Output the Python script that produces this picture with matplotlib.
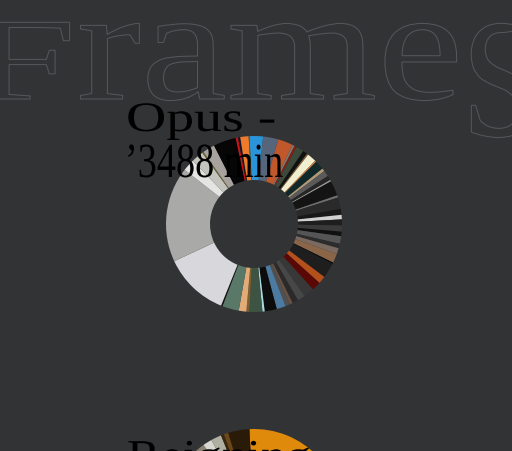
import numpy as np
import matplotlib
matplotlib.use("Agg")
import matplotlib.pyplot as plt
from matplotlib.patheffects import AbstractPathEffect
from matplotlib.transforms import Affine2D
from matplotlib.path import Path

# ---------------- data ----------------
title_text = "Frames"
album1_line1 = "Opus -"
album1_line2 = "\u20193488 min"
album2_line1 = "Reigning"

# donut 1: colour share of each slice (clockwise from top)
album1_values = [9, 10, 10, 1.5, 1.5, 5, 3, 1, 6, 1, 6, 2, 4, 3, 1, 10, 1.5, 7.5,
                 4, 3, 4, 4, 3, 5, 3, 4, 6, 1, 10, 5, 6, 7, 5, 4, 2, 3, 6, 8,
                 1.5, 8.5, 2, 5, 11, 1, 43, 63, 8, 8, 1, 8, 15, 1.5, 1.5, 5.5, 0.5]
album1_colors = ["#2b93d8", "#56657a", "#c0582b", "#7a7a72", "#8a1a10", "#3b4a3a",
                 "#111111", "#7a5a30", "#f2eed0", "#d08040", "#10282a", "#b09a78",
                 "#5a5a5a", "#262626", "#a0a0a0", "#141414", "#707070", "#2a2a2a",
                 "#181818", "#d0d0d0", "#1e1e1e", "#3a3a3a", "#101010", "#555555",
                 "#2c2c2c", "#7a6a60", "#8a6548", "#0a0a0a", "#1e1e1e", "#b4501c",
                 "#5a0806", "#383838", "#474747", "#2a2a2a", "#6a5040", "#505050",
                 "#4d7aa0", "#0c0c0c", "#a8d8e0", "#3d5444", "#7b6030", "#e2ab78",
                 "#5a7868", "#151515", "#d8d8dc", "#a9a9a7", "#e4e4e2", "#c4c4be",
                 "#6e6a30", "#a8a29e", "#060606", "#d01010", "#141428", "#ef7a2c",
                 "#3a6a4a"]

# donut 2 (mostly below the visible area)
album2_values = [200, 40, 45, 43, 6, 7, 2, 3, 14]
album2_colors = ["#e08a0c", "#c07020", "#5a4030", "#8a8070", "#d8d8d0",
                 "#b0b0a2", "#3a2510", "#6a4818", "#2a1a08"]

BG = "#323335"


# ---------------- helpers ----------------
class Stretch(AbstractPathEffect):
    """Draw text stretched horizontally (optionally outline only)."""
    def __init__(self, sx=1.0, edge=None, lw=0.0, glyph_fn=None):
        super().__init__()
        self.sx = sx
        self.edge = edge
        self.lw = lw
        self.glyph_fn = glyph_fn

    def draw_path(self, renderer, gc, tpath, affine, rgbFace=None):
        gc0 = renderer.new_gc()
        gc0.copy_properties(gc)
        path = tpath
        if self.glyph_fn is not None:
            path = Path(self.glyph_fn(np.array(tpath.vertices, dtype=float)), tpath.codes)
        aff = Affine2D().scale(self.sx, 1.0) + affine
        if self.edge is not None:
            gc0.set_foreground(self.edge)
            gc0.set_linewidth(self.lw)
            renderer.draw_path(gc0, path, aff, None)
        else:
            gc0.set_linewidth(0)
            renderer.draw_path(gc0, path, aff, rgbFace)
        gc0.restore()


def frames_glyphs(v):
    # F drawn at lowercase height, final s drawn taller (hanging below baseline)
    x, y = v[:, 0], v[:, 1]
    m_f = x < 55
    y[m_f] = y[m_f] * 0.73
    m_s = x > 254
    top = 47.0
    y[m_s] = top - (top - y[m_s]) * 1.48
    return v


# ---------------- figure ----------------
W, H = 512, 452
fig = plt.figure(figsize=(W / 100, H / 100), dpi=100, facecolor=BG)
ax = fig.add_axes([0, 0, 1, 1])
ax.set_facecolor(BG)

# big outlined title
ax.text(-31, H - 100, title_text, family="Liberation Serif", fontsize=115.5,
        color=BG, ha="left", va="baseline", zorder=1,
        path_effects=[Stretch(sx=1.206, edge="#55565a", lw=0.75,
                              glyph_fn=frames_glyphs)])

# donut 1
ax.pie(album1_values, colors=album1_colors, startangle=93, counterclock=False,
       radius=88, center=(254, H - 225),
       wedgeprops=dict(width=44, linewidth=0, zorder=2))

# donut 2 (cut by the bottom edge)
ax.pie(album2_values, colors=album2_colors, startangle=93, counterclock=False,
       radius=88, center=(254, H - 518),
       wedgeprops=dict(width=44, linewidth=0, zorder=2))

ax.set_xlim(0, W)
ax.set_ylim(0, H)
ax.axis("off")

# labels
ax.text(126, H - 132, album1_line1, family="Liberation Serif", fontsize=30.2,
        color="#000000", ha="left", va="baseline", zorder=5,
        path_effects=[Stretch(sx=1.33)])
ax.text(125, H - 178, album1_line2, family="Liberation Serif", fontsize=35.3,
        color="#000000", ha="left", va="baseline", zorder=5,
        path_effects=[Stretch(sx=0.78)])
ax.text(127, H - 471, album2_line1, family="Liberation Serif", fontsize=31.7,
        color="#000000", ha="left", va="baseline", zorder=5,
        path_effects=[Stretch(sx=1.14)])

fig.savefig("out.png", dpi=100, facecolor=BG)
